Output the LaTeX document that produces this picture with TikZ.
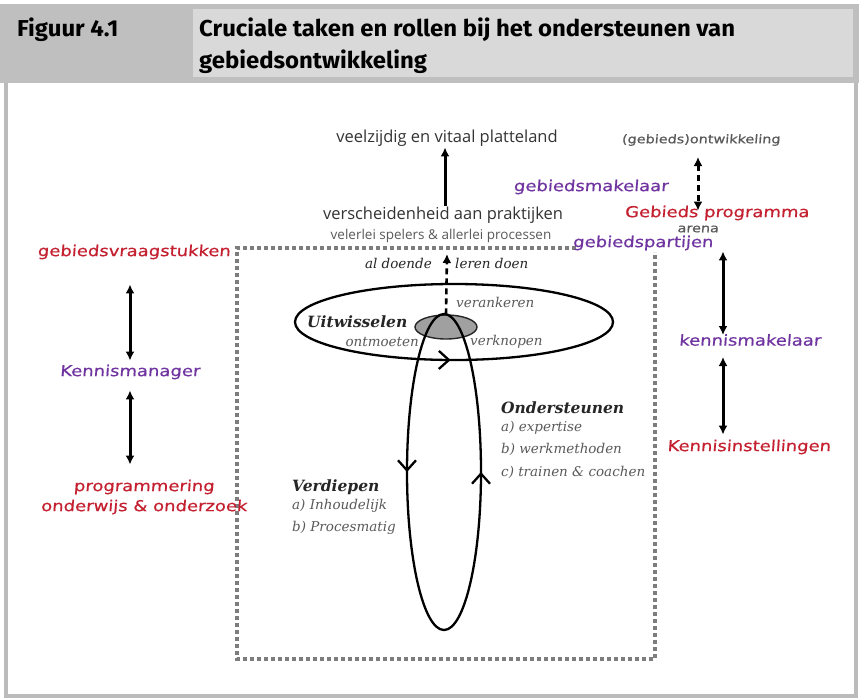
\documentclass[tikz,border=0pt]{standalone}
\usepackage{fontspec}
\usetikzlibrary{arrows.meta,shapes.geometric,decorations.markings}
\newfontfamily\headfont[FakeStretch=1.04]{Fira Sans}
\newfontfamily\handfont[FakeStretch=1.2,FakeSlant=0.08,FakeBold=0.5]{DejaVu Sans}
\newfontfamily\plainfont{Open Sans}
\newfontfamily\bookfont{DejaVu Serif}
\definecolor{hdark}{RGB}{191,191,191}
\definecolor{hlight}{RGB}{217,217,217}
\definecolor{framegray}{RGB}{187,187,187}
\definecolor{boxgray}{RGB}{125,125,125}
\definecolor{hubgray}{RGB}{160,160,160}
\definecolor{handred}{RGB}{196,32,48}
\definecolor{handpurple}{RGB}{112,52,160}
\definecolor{textgray}{RGB}{90,90,90}
\tikzset{
  headtext/.style={font=\headfont\bfseries\fontsize{23}{26}\selectfont, inner sep=0pt},
  hand/.style={font=\handfont\fontsize{15}{20}\selectfont, inner sep=1pt, align=center},
  red label/.style={hand, text=handred},
  purple label/.style={hand, text=handpurple},
  gray hand/.style={hand, font=\handfont\fontsize{12}{14}\selectfont, text=textgray},
  plaintext/.style={font=\plainfont\fontsize{16.5}{18}\selectfont, text=black!80, inner sep=1pt},
  booktext/.style={font=\bookfont\itshape\fontsize{13.5}{22.5}\selectfont, text=textgray, inner sep=1pt, align=left},
  bookhead/.style={font=\bookfont\bfseries\itshape\fontsize{15.5}{18}\selectfont, text=black!85, inner sep=1pt},
  boxline/.style={boxgray, line width=3.2pt, dash pattern=on 4pt off 3pt},
  oneway/.style={line width=3pt, -{Latex[length=9pt,width=9pt]}},
  twoway/.style={line width=3pt, {Latex[length=9pt,width=9pt]}-{Latex[length=9pt,width=9pt]}},
  dashtwoway/.style={twoway, dash pattern=on 6pt off 4pt},
  cycleline/.style={line width=2.3pt},
  midtip/.style={postaction={decorate}, decoration={markings,
    mark=at position #1 with {\arrow{Straight Barb[length=10pt,width=18pt]}}}}
}

\begin{document}
\begin{tikzpicture}[x=1pt,y=-1pt]
\useasboundingbox (0,0) rectangle (859,699);
\fill[white] (0,0) rectangle (859,699);
\fill[hdark] (0,4) rectangle (859,83);
\fill[hlight] (193,9) rectangle (853,77);
\draw[framegray, line width=4pt] (6,83) -- (6,696) -- (856,696) -- (856,83);

\node[headtext, anchor=base west] (figno) at (17,36) {Figuur 4.1};
\node[headtext, anchor=base west] (title) at (199,36) {Cruciale taken en rollen bij het ondersteunen van};
\node[headtext, anchor=base west] (title2) at (199,68) {gebiedsontwikkeling};

\draw[boxline] (576,248) -- (237,248) -- (237,659) -- (655,659) -- (655,252);

\draw[cycleline, midtip=0.745] (613,322) arc [start angle=0, end angle=-360, x radius=159, y radius=38];
\node[ellipse, draw=black!85, line width=1.4pt, fill=hubgray, minimum width=62pt, minimum height=24pt, inner sep=0pt] (hub) at (446,327) {};
\coordinate (looptop) at (444,314);
\coordinate (loopbot) at (444,630);
\draw[cycleline, midtip=0.5] (looptop) arc [start angle=-90, end angle=-270, x radius=37, y radius=158];
\draw[cycleline, midtip=0.5] (loopbot) arc [start angle=90, end angle=-90, x radius=37, y radius=158];

\node[plaintext] (platteland) at (447,138) {veelzijdig en vitaal platteland};
\node[plaintext] (praktijken) at (443,215) {verscheidenheid aan praktijken};
\node[plaintext, font=\plainfont\fontsize{13.5}{15}\selectfont, text=textgray] (spelers) at (441,236) {velerlei spelers \& allerlei processen};
\draw[oneway] (praktijken.north -| 445,0) -- (platteland.south -| 445,0);

\node[booktext, text=black!85, anchor=east] (doende) at (433,263) {al doende};
\node[booktext, text=black!85, anchor=west] (lerendoen) at (454,263) {leren doen};
\coordinate (learn) at (447,254);
\draw[oneway, line width=2.6pt, dash pattern=on 6pt off 4pt] (hub.north) -- (learn);

\node[bookhead, anchor=west] (uitw) at (306,322) {Uitwisselen};
\node[booktext, anchor=west] (verank) at (455,302) {verankeren};
\node[booktext, anchor=east] (ontm) at (420,342) {ontmoeten};
\node[booktext, anchor=west] (verkn) at (469,342) {verknopen};

\node[bookhead, anchor=west] (onderst) at (500,408) {Ondersteunen};
\node[booktext, anchor=north west] (onderstlist) at (500,420) {a) expertise\\b) werkmethoden\\c) trainen \& coachen};
\node[bookhead, anchor=west] (verdiep) at (291,487) {Verdiepen};
\node[booktext, anchor=north west] (verdieplist) at (291,498) {a) Inhoudelijk\\b) Procesmatig};

\node[red label] (gvs) at (134,252) {gebiedsvraagstukken};
\node[purple label] (kmanager) at (130,372) {Kennismanager};
\node[red label] (progr) at (144,497) {programmering\\onderwijs \& onderzoek};
\draw[twoway, shorten <=24pt, shorten >=3pt] (gvs.south -| kmanager.north) -- (kmanager.north);
\draw[twoway, shorten <=10pt, shorten >=14pt] (kmanager.south) -- (kmanager.south |- progr.north);

\node[gray hand] (ontw) at (701,140) {(gebieds)ontwikkeling};
\node[purple label] (gmak) at (591,187) {gebiedsmakelaar};
\node[red label] (gprog) at (717,213) {Gebieds programma};
\node[gray hand] (arena) at (698,229) {arena};
\node[purple label] (gpart) at (643,243) {gebiedspartijen};
\node[purple label] (kmak) at (750,340) {kennismakelaar};
\node[red label] (kinst) at (749,447) {Kennisinstellingen};
\draw[dashtwoway, shorten <=10pt, shorten >=-6pt] ([xshift=-3pt]ontw.south) -- ([xshift=-3pt]ontw.south |- gprog.north);
\draw[twoway] ([xshift=-27pt]kmak.north |- gpart.south) -- ([xshift=-27pt,yshift=-2pt]kmak.north);
\draw[twoway, shorten <=10pt, shorten >=4pt] ([xshift=-27pt]kmak.south) -- ([xshift=-27pt]kmak.south |- kinst.north);
\end{tikzpicture}
\end{document}
